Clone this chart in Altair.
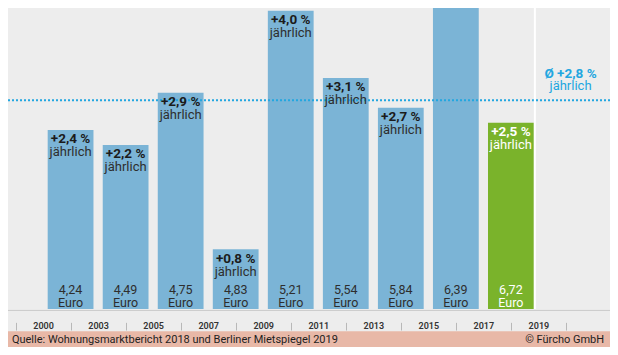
import altair as alt
import pandas as pd

# ---------------- data ----------------
years = ["2000", "2003", "2005", "2007", "2009", "2011", "2013", "2015", "2017", "2019"]
rent_euro = [4.24, 4.49, 4.75, 4.83, 5.21, 5.54, 5.84, 6.39, 6.72]
growth_pct = [2.4, 2.2, 2.9, 0.8, 4.0, 3.1, 2.7, 4.6, 2.5]
avg_growth = 2.8
unit_text = "Euro"
per_year_text = "jährlich"
source_text = "Quelle: Wohnungsmarktbericht 2018 und Berliner Mietspiegel 2019"
credit_text = "© Fürcho GmbH"


def de(v, nd):
    return f"{v:.{nd}f}".replace(".", ",")


n = len(rent_euro)

# ---------------- layout ----------------
REF_W, REF_H = 618, 355
W, TOT_H = 602, 339
sx, sy = W / REF_W, TOT_H / REF_H
STEP_REF, LEFT_REF = 56.5, 7.75
PLOT_H_REF, PX_PER_PCT = 315, 78.0
H = round(PLOT_H_REF * sy)

x_min = -0.5 - LEFT_REF / STEP_REF
x_max = x_min + REF_W / STEP_REF
y_max = PLOT_H_REF / PX_PER_PCT
bar_w_units = 47 / STEP_REF

bars = pd.DataFrame({
    "pos": [i + 0.5 for i in range(n)],  # each period sits between its two year labels
    "growth": growth_pct,
    "pct_label": ["+" + de(g, 1) + " %" for g in growth_pct],
    "euro_label": [de(e, 2) for e in rent_euro],
    "latest": [i == n - 1 for i in range(n)],
})
avg_df = pd.DataFrame({"avg": [avg_growth], "label": ["Ø +" + de(avg_growth, 1) + " %"]})
sep_df = pd.DataFrame({"sep": [(n - 1) + 0.5 + bar_w_units / 2 + 0.02]})
foot_df = pd.DataFrame({"src": [source_text], "cred": [credit_text]})

# axis: year labels at whole positions, tick marks halfway between them
axis_values = [k / 2 for k in range(-1, 2 * len(years))]
years_js = "[" + ",".join("'" + y + "'" for y in years) + "]"
label_expr = f"datum.value % 1 === 0 ? {years_js}[datum.value] : ''"

BLUE = "#7bb4d6"
GREEN = "#7ab32b"
CYAN = "#22a6e0"
DARK = "#1b1b1b"
TXT = "#2e2e2e"
BG = "#ededed"
FOOT = "#e8b8a7"
FONT = "Roboto"

xs = alt.Scale(domain=[x_min, x_max], nice=False, zero=False, padding=0)
ys = alt.Scale(domain=[0, y_max], nice=False, zero=True, padding=0)

x_axis = alt.Axis(
    orient="bottom", values=axis_values, labelExpr=label_expr, title=None,
    domain=False, grid=False, ticks=True,
    tickOpacity={"condition": {"test": "datum.value % 1 !== 0", "value": 1}, "value": 0},
    tickSize=8 * sy, tickColor="#b8b8b8", tickWidth=1,
    offset=14 * sy, labelAngle=0, labelBaseline="middle", labelAlign="center",
    labelPadding=(3.5 - 8) * sy, labelFont=FONT, labelFontSize=9,
    labelFontWeight=600, labelColor="#333333", labelFlush=False, labelOverlap=False,
)
X = alt.X("pos:Q", scale=xs, axis=x_axis)
Y = alt.Y("growth:Q", scale=ys, axis=None)

bar_color = alt.condition("datum.latest", alt.value(GREEN), alt.value(BLUE))
txt_color = alt.condition("datum.latest", alt.value("white"), alt.value(TXT))
pct_color = alt.condition("datum.latest", alt.value("white"), alt.value(DARK))
in_view = f"datum.growth <= {y_max}"   # labels of the bar running off the top are not visible

avg_line = alt.Chart(avg_df).mark_rule(color=CYAN, strokeWidth=2, strokeDash=[2, 2]).encode(
    y=alt.Y("avg:Q", scale=ys, axis=None)
)

sep_line = alt.Chart(sep_df).mark_rule(color="white", strokeWidth=2).encode(
    x=alt.X("sep:Q", scale=xs, axis=x_axis)
)

bar = alt.Chart(bars).mark_bar(size=47 * sx, clip=True).encode(x=X, y=Y, color=bar_color)

pct_txt = alt.Chart(bars).transform_filter(in_view).mark_text(
    font=FONT, fontSize=13.5, fontWeight="bold", baseline="alphabetic", dy=14 * sy
).encode(x=X, y=Y, text="pct_label:N", color=pct_color)

yr_txt = alt.Chart(bars).transform_filter(in_view).mark_text(
    font=FONT, fontSize=13, baseline="alphabetic", dy=27.5 * sy, text=per_year_text
).encode(x=X, y=Y, color=txt_color)

val_txt = alt.Chart(bars).mark_text(
    font=FONT, fontSize=12.5, baseline="alphabetic", dy=-15.5 * sy
).encode(x=X, y=alt.value(H), text="euro_label:N", color=txt_color)

unit_txt = alt.Chart(bars).mark_text(
    font=FONT, fontSize=12.5, baseline="alphabetic", dy=-2.5 * sy, text=unit_text
).encode(x=X, y=alt.value(H), color=txt_color)

avg_txt = alt.Chart(avg_df).mark_text(
    font=FONT, fontSize=13.5, fontWeight="bold", baseline="alphabetic", dy=-23.5 * sy, color=CYAN
).encode(x=alt.value(577.5 * sx), y=alt.Y("avg:Q", scale=ys, axis=None), text="label:N")

avg_txt2 = alt.Chart(avg_df).mark_text(
    font=FONT, fontSize=13, baseline="alphabetic", dy=-11 * sy, color=CYAN, text=per_year_text
).encode(x=alt.value(577.5 * sx), y=alt.Y("avg:Q", scale=ys, axis=None))

base_line = alt.Chart(avg_df).mark_rule(color="#cbcbcb", strokeWidth=1).encode(
    x=alt.value(0), x2=alt.value(W), y=alt.value(H + 1.5 * sy)
)

foot_rect = alt.Chart(foot_df).mark_rect(color=FOOT).encode(
    x=alt.value(0), x2=alt.value(W), y=alt.value(338.5 * sy), y2=alt.value(TOT_H + 2)
)
foot_src = alt.Chart(foot_df).mark_text(
    font=FONT, fontSize=11, align="left", baseline="alphabetic", color="#1e1e1e"
).encode(x=alt.value(4 * sx), y=alt.value(351 * sy), text="src:N")
foot_cred = alt.Chart(foot_df).mark_text(
    font=FONT, fontSize=11, align="right", baseline="alphabetic", color="#1e1e1e"
).encode(x=alt.value(612 * sx), y=alt.value(351 * sy), text="cred:N")

chart = alt.layer(
    bar, foot_rect, avg_line, sep_line, pct_txt, yr_txt, val_txt, unit_txt,
    avg_txt, avg_txt2, base_line, foot_src, foot_cred,
).properties(
    width=W, height=H,
    autosize=alt.AutoSizeParams(type="none"),
    padding={"left": 0, "top": 0, "right": 0, "bottom": TOT_H - H},
).configure(
    background=BG
).configure_view(strokeWidth=0)

chart.save("out.html", embed_options={"renderer": "svg", "actions": False})
